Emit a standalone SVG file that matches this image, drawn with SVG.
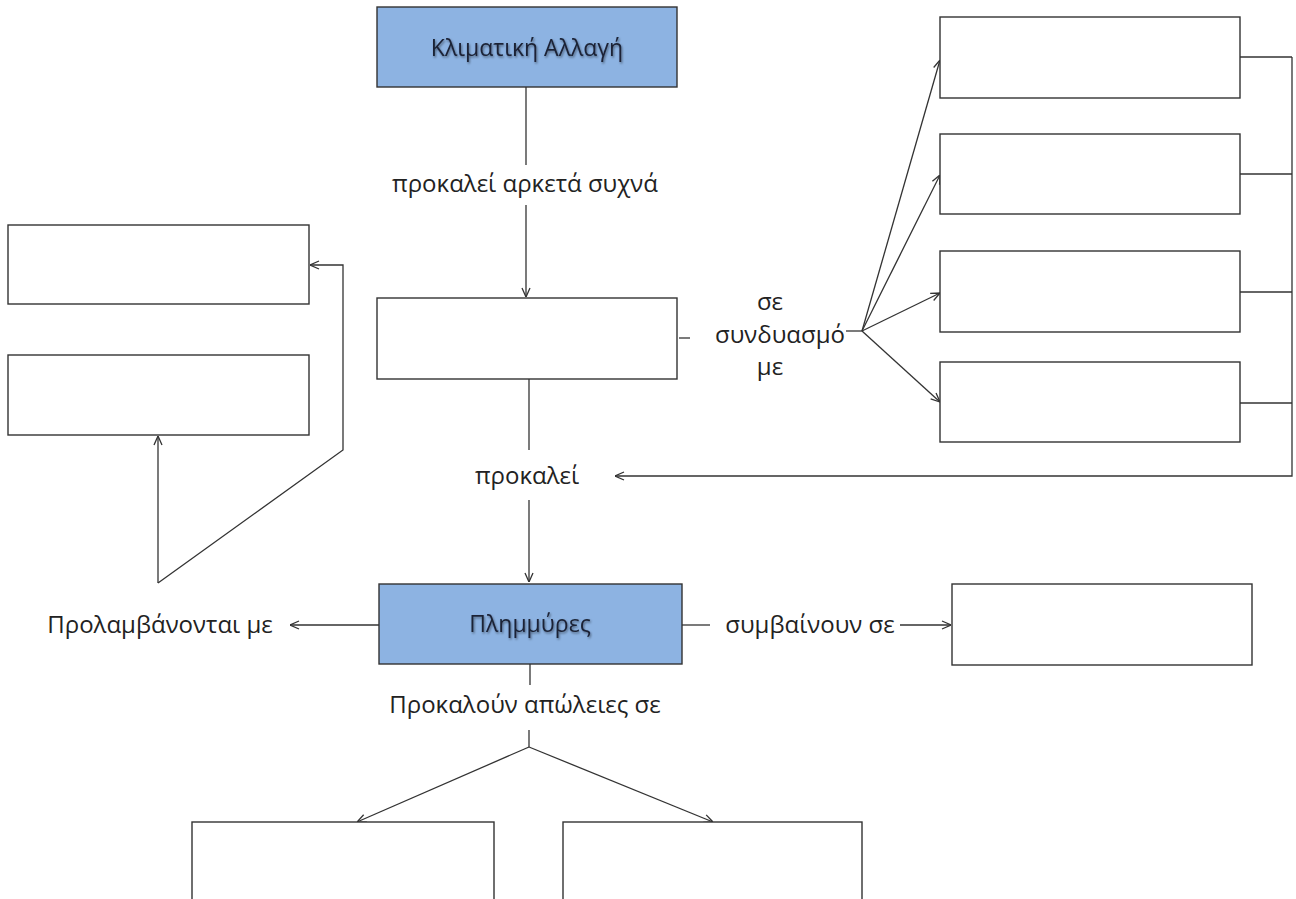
<svg xmlns="http://www.w3.org/2000/svg" width="1296" height="899" viewBox="0 0 1296 899">
<style>
.box{fill:#fff;stroke:#333;stroke-width:1.4}
.blue{fill:#8db3e2;stroke:#333;stroke-width:1.4}
.ln{fill:none;stroke:#333;stroke-width:1.3}
.ar{fill:none;stroke:#333;stroke-width:1.3;marker-end:url(#a)}
.lbl{font-family:"Open Sans","Noto Sans","DejaVu Sans",sans-serif;font-size:24px;fill:#222;text-anchor:middle}
.ttl{font-family:"Open Sans","Noto Sans","DejaVu Sans",sans-serif;font-size:23px;fill:#1b2236;text-anchor:middle;filter:url(#sh)}
</style>
<defs>
<marker id="a" viewBox="0 0 10 10" refX="10" refY="5" markerWidth="10" markerHeight="10" markerUnits="userSpaceOnUse" orient="auto">
<path d="M1,1 L10,5 L1,9" fill="none" stroke="#333" stroke-width="1.3"/>
</marker>
<filter id="sh" x="-10%" y="-30%" width="120%" height="160%">
<feDropShadow dx="1" dy="1.5" stdDeviation="1" flood-color="#000" flood-opacity="0.45"/>
</filter>
</defs>
<rect width="1296" height="899" fill="#fff"/>
<g id="connectors">
<line class="ln" x1="526" y1="87" x2="526" y2="165"/>
<line class="ar" x1="526" y1="205" x2="526" y2="297"/>
<line class="ln" x1="679" y1="338" x2="690" y2="338"/>
<line class="ln" x1="846" y1="331" x2="862" y2="331"/>
<line class="ar" x1="862" y1="331" x2="940" y2="60"/>
<line class="ar" x1="862" y1="331" x2="940" y2="175"/>
<line class="ar" x1="862" y1="331" x2="940" y2="293"/>
<line class="ar" x1="862" y1="331" x2="940" y2="402"/>
<line class="ln" x1="1240" y1="57" x2="1292" y2="57"/>
<line class="ln" x1="1240" y1="174" x2="1292" y2="174"/>
<line class="ln" x1="1240" y1="292" x2="1292" y2="292"/>
<line class="ln" x1="1240" y1="403" x2="1292" y2="403"/>
<polyline class="ar" points="1292,57 1292,476 615,476"/>
<line class="ln" x1="529" y1="379" x2="529" y2="450"/>
<line class="ar" x1="529" y1="500" x2="529" y2="582"/>
<line class="ar" x1="379" y1="625" x2="290" y2="625"/>
<line class="ar" x1="158" y1="583" x2="158" y2="436"/>
<polyline class="ar" points="158,583 343,450 343,265 310,265"/>
<line class="ln" x1="682" y1="625" x2="710" y2="625"/>
<line class="ar" x1="900" y1="625" x2="951" y2="625"/>
<line class="ln" x1="530" y1="664" x2="530" y2="685"/>
<line class="ln" x1="529" y1="730" x2="529" y2="747"/>
<line class="ar" x1="529" y1="747" x2="357" y2="822"/>
<line class="ar" x1="529" y1="747" x2="713" y2="822"/>
</g>
<g id="label-1"><text class="lbl" x="525" y="192">προκαλεί αρκετά συχνά</text></g>
<g id="label-2"><text class="lbl" x="770" y="310">σε</text><text class="lbl" x="780" y="343">συνδυασμό</text><text class="lbl" x="770" y="375">με</text></g>
<g id="label-3"><text class="lbl" x="527" y="484">προκαλεί</text></g>
<g id="label-4"><text class="lbl" x="160" y="633">Προλαμβάνονται με</text></g>
<g id="label-5"><text class="lbl" x="810" y="633">συμβαίνουν σε</text></g>
<g id="label-6"><text class="lbl" x="525" y="713">Προκαλούν απώλειες σε</text></g>
<g id="n-climate"><rect class="blue" x="377" y="7" width="300" height="80"/><text class="ttl" x="527" y="56">Κλιματική Αλλαγή</text></g>
<g id="n-mid"><rect class="box" x="377" y="298" width="300" height="81"/></g>
<g id="n-r1"><rect class="box" x="940" y="17" width="300" height="81"/></g>
<g id="n-r2"><rect class="box" x="940" y="134" width="300" height="80"/></g>
<g id="n-r3"><rect class="box" x="940" y="251" width="300" height="81"/></g>
<g id="n-r4"><rect class="box" x="940" y="362" width="300" height="80"/></g>
<g id="n-l1"><rect class="box" x="8" y="225" width="301" height="79"/></g>
<g id="n-l2"><rect class="box" x="8" y="355" width="301" height="80"/></g>
<g id="n-flood"><rect class="blue" x="379" y="584" width="303" height="80"/><text class="ttl" x="530" y="632">Πλημμύρες</text></g>
<g id="n-place"><rect class="box" x="952" y="584" width="300" height="81"/></g>
<g id="n-b1"><rect class="box" x="192" y="822" width="302" height="90"/></g>
<g id="n-b2"><rect class="box" x="563" y="822" width="299" height="90"/></g>
</svg>
